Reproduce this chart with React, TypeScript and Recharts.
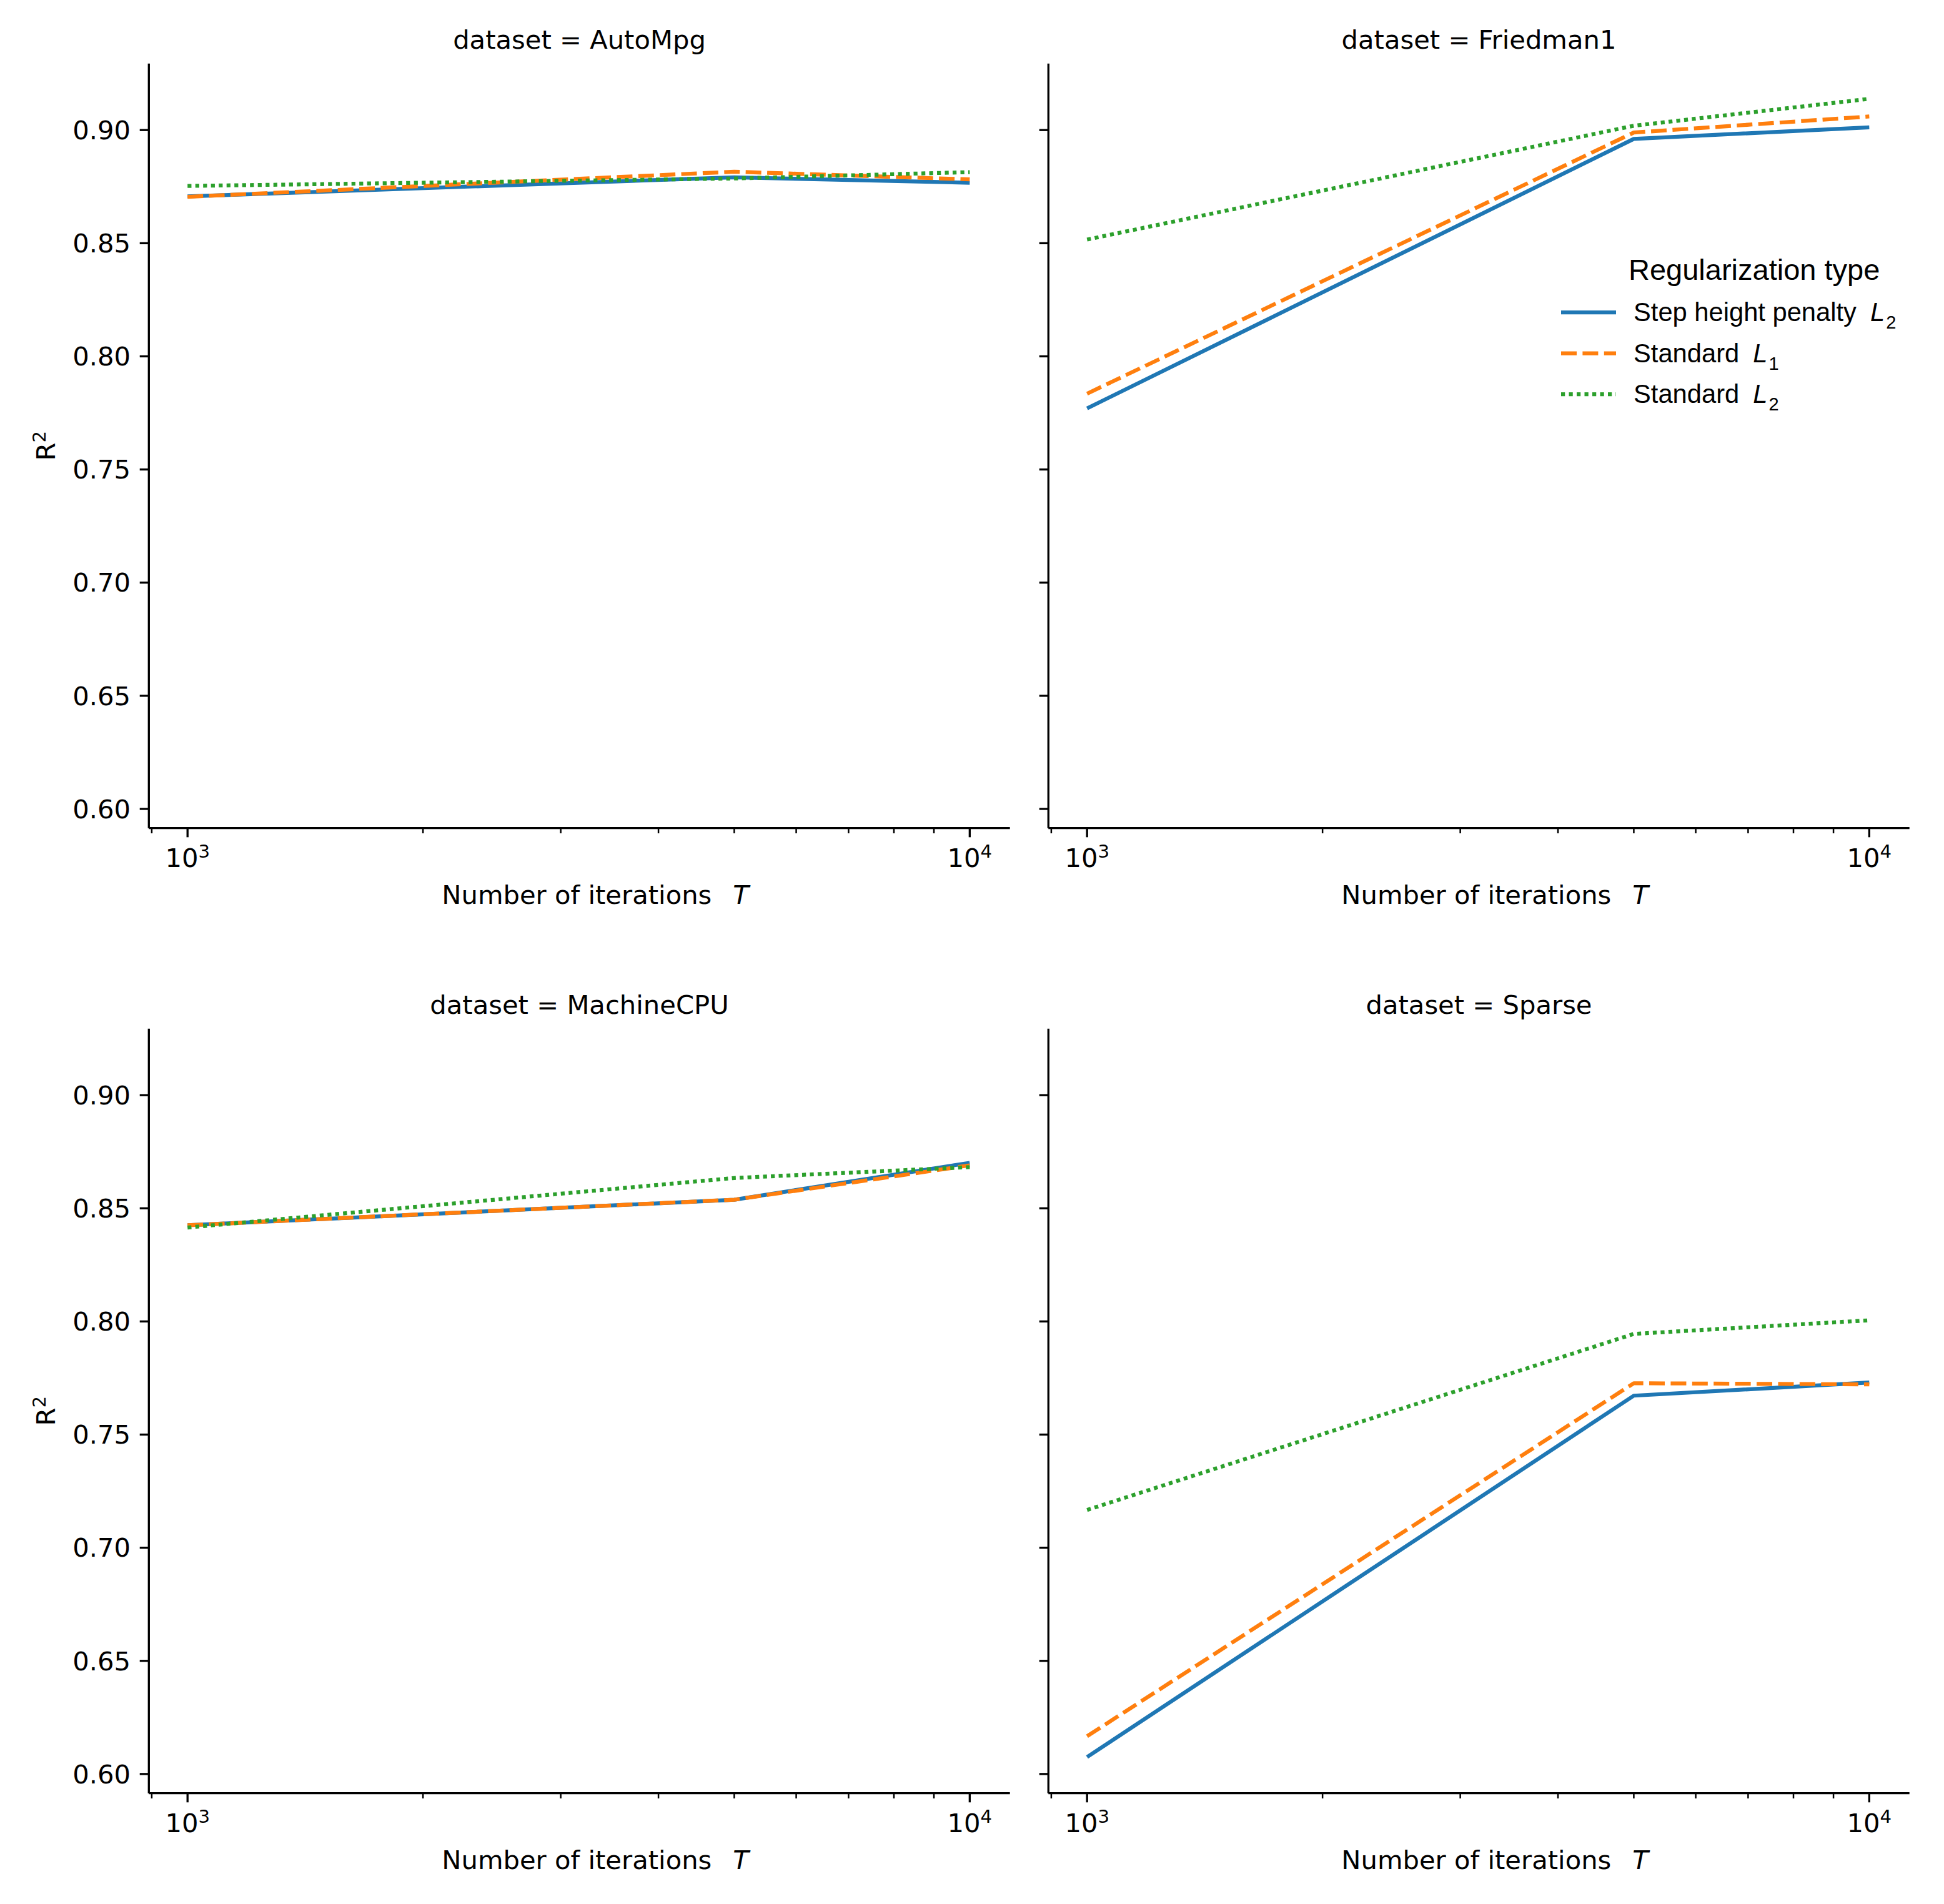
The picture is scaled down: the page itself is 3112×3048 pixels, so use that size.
import React from 'react';
import { LineChart, Line, XAxis, YAxis, Legend } from 'recharts';

// ---------- data ----------
const iterations = [1000, 5000, 10000];

const autoMpgStepL2 = [0.8707, 0.8791, 0.8767];
const autoMpgStdL1 = [0.8705, 0.8816, 0.8782];
const autoMpgStdL2 = [0.8753, 0.8786, 0.8814];

const friedmanStepL2 = [0.777, 0.8961, 0.9012];
const friedmanStdL1 = [0.7835, 0.8989, 0.906];
const friedmanStdL2 = [0.8516, 0.9019, 0.9138];

const machineStepL2 = [0.8425, 0.8538, 0.8701];
const machineStdL1 = [0.8425, 0.8538, 0.869];
const machineStdL2 = [0.8415, 0.8634, 0.8682];

const sparseStepL2 = [0.6075, 0.7672, 0.773];
const sparseStdL1 = [0.6167, 0.7727, 0.7722];
const sparseStdL2 = [0.7167, 0.7945, 0.8005];

const datasetNames = ['AutoMpg', 'Friedman1', 'MachineCPU', 'Sparse'];
const yTicks = [0.6, 0.65, 0.7, 0.75, 0.8, 0.85, 0.9];
const xMajorTicks = [1000, 10000];
const xMinorTicks = [900, 2000, 3000, 4000, 5000, 6000, 7000, 8000, 9000];
const seriesKeys = ['stepL2', 'stdL1', 'stdL2'];
const seriesLabels = ['Step height penalty', 'Standard', 'Standard'];
const seriesSubs = ['2', '1', '2'];
const seriesColors = ['#1f77b4', '#ff7f0e', '#2ca02c'];
const seriesDashes = [undefined, '25 9.4', '6.25 6.25'];

const buildRows = (a: number[], b: number[], c: number[]) =>
  iterations.map((t, i) => ({ T: t, stepL2: a[i], stdL1: b[i], stdL2: c[i] }));

const panelData = [
  buildRows(autoMpgStepL2, autoMpgStdL1, autoMpgStdL2),
  buildRows(friedmanStepL2, friedmanStdL1, friedmanStdL2),
  buildRows(machineStepL2, machineStdL1, machineStdL2),
  buildRows(sparseStepL2, sparseStdL1, sparseStdL2),
];

// ---------- layout ----------
const FONT = 'DejaVu Sans';
const LFONT = 'Liberation Sans';
const FS = 41.7;
const CW = 1640;
const CH = 1500;
const AX_LEFT = 238.3;
const AX_TOP = 101.7;
const AX_W = 1378.4;
const AX_H = 1224;
const AX_BOTTOM = AX_TOP + AX_H;
const panelBoxes = [
  { left: 0, top: 0 },
  { left: 1440, top: 0 },
  { left: 0, top: 1544.7 },
  { left: 1440, top: 1544.7 },
];

const XTick = (props: any) => {
  const { x, y, payload } = props;
  const v = payload.value;
  const major = xMajorTicks.includes(v);
  const len = major ? 14.6 : 8.3;
  return (
    <g>
      <line x1={x} x2={x} y1={y} y2={y + len} stroke="#000" strokeWidth={major ? 3.33 : 2.5} />
      {major && (
        <text x={x} y={y + 62.6} textAnchor="middle" fontFamily={FONT} fontSize={FS} fill="#000">
          10
          <tspan dy={-15} fontSize={29.2}>{String(Math.round(Math.log10(v)))}</tspan>
        </text>
      )}
    </g>
  );
};

const XLabel = () => (
  <text y={AX_BOTTOM + 121} fontFamily={FONT} fontSize={FS} fill="#000">
    <tspan x={AX_LEFT + 469}>Number of iterations</tspan>
    <tspan x={AX_LEFT + 935} fontStyle="italic">T</tspan>
  </text>
);

const YLabel = () => (
  <text
    transform={`translate(88.3, ${AX_TOP + AX_H / 2}) rotate(-90)`}
    textAnchor="middle"
    fontFamily={FONT}
    fontSize={FS}
    fill="#000"
  >
    R<tspan dy={-15} fontSize={29.2}>2</tspan>
  </text>
);

const LegendContent = () => (
  <svg width={620} height={280} style={{ display: 'block', overflow: 'visible' }}>
    <text x={127} y={48.3} fontFamily={LFONT} fontSize={47} fill="#000">
      Regularization type
    </text>
    {seriesKeys.map((k, i) => (
      <g key={k}>
        <line
          x1={19}
          x2={107}
          y1={100 + i * 65.6}
          y2={100 + i * 65.6}
          stroke={seriesColors[i]}
          strokeWidth={6.25}
          strokeDasharray={seriesDashes[i]}
        />
        <text x={135} y={114 + i * 65.6} fontFamily={LFONT} fontSize={FS} fill="#000">
          {seriesLabels[i]}
          <tspan dx={22} fontStyle="italic">L</tspan>
          <tspan dx={2} dy={12} fontSize={29}>{seriesSubs[i]}</tspan>
        </text>
      </g>
    ))}
  </svg>
);

const Panel = ({ idx }: { idx: number }) => {
  const box = panelBoxes[idx];
  const showYLabels = idx % 2 === 0;
  return (
    <div style={{ position: 'absolute', left: box.left, top: box.top, width: CW, height: CH }}>
      <LineChart
        width={CW}
        height={CH}
        data={panelData[idx]}
        margin={{ top: AX_TOP, left: 0, right: CW - AX_LEFT - AX_W, bottom: 0 }}
      >
        <XAxis
          type="number"
          dataKey="T"
          scale="log"
          domain={[892.4, 11256]}
          allowDataOverflow
          ticks={[...xMinorTicks, ...xMajorTicks].sort((a, b) => a - b)}
          interval={0}
          tick={<XTick />}
          tickLine={false}
          tickSize={0}
          tickMargin={0}
          height={CH - AX_BOTTOM}
          stroke="#000"
          axisLine={{ stroke: '#000', strokeWidth: 3.33 }}
          label={{ content: () => <XLabel /> }}
        />
        <YAxis
          type="number"
          domain={[0.5915, 0.9294]}
          allowDataOverflow
          ticks={yTicks}
          interval={0}
          width={AX_LEFT}
          stroke="#000"
          axisLine={{ stroke: '#000', strokeWidth: 3.33 }}
          tickLine={{ stroke: '#000', strokeWidth: 3.33 }}
          tickSize={14.6}
          tickMargin={14.6}
          tick={{ fill: '#000', fontSize: FS, fontFamily: FONT }}
          tickFormatter={(v: number) => (showYLabels ? v.toFixed(2) : '')}
          label={showYLabels ? { content: () => <YLabel /> } : undefined}
        />
        {seriesKeys.map((k, i) => (
          <Line
            key={k}
            type="linear"
            dataKey={k}
            name={seriesLabels[i]}
            stroke={seriesColors[i]}
            strokeWidth={6.25}
            strokeDasharray={seriesDashes[i]}
            strokeLinejoin="round"
            dot={false}
            activeDot={false}
            isAnimationActive={false}
          />
        ))}
        {idx === 1 && (
          <Legend
            layout="vertical"
            align="center"
            verticalAlign="middle"
            content={() => <LegendContent />}
            wrapperStyle={{ position: 'absolute', left: 1040, top: 400, width: 620, height: 280 }}
          />
        )}
        <text
          x={AX_LEFT + AX_W / 2}
          y={78}
          textAnchor="middle"
          fontFamily={FONT}
          fontSize={FS}
          fill="#000"
        >
          {`dataset = ${datasetNames[idx]}`}
        </text>
      </LineChart>
    </div>
  );
};

export default function App() {
  return (
    <div
      style={{
        position: 'absolute',
        left: 0,
        top: 0,
        width: 3112,
        height: 3048,
        background: '#fff',
        fontFamily: FONT,
      }}
    >
      {[0, 1, 2, 3].map((i) => (
        <Panel key={i} idx={i} />
      ))}
    </div>
  );
}
